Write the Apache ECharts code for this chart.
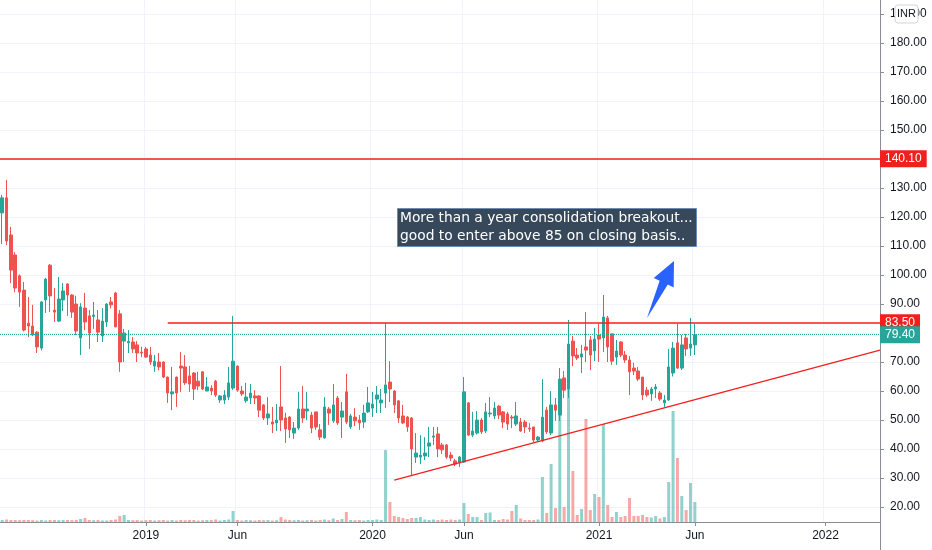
<!DOCTYPE html>
<html>
<head>
<meta charset="utf-8">
<script src="https://cdn.jsdelivr.net/npm/echarts@6/dist/echarts.min.js"></script>
<style>
html, body { margin: 0; padding: 0; background: #fff; }
#chart { width: 932px; height: 550px; }
</style>
</head>
<body>
<div id="chart"></div>
<script>
// weekly bars, first bar week of 21 May 2018, axis runs on into 2022
var firstWeek = [2018, 4, 21];
var weekCount = 202;

var opens = [
  121.4,126.6,113.8,106.9,99.7,94.8,83.4,82.4,80.3,74.8,
  91.4,103.4,87.9,84.1,91.4,96.9,93.1,90.0,78.3,88.6,
  85.9,85.7,84.5,79.0,83.8,90.7,93.8,86.6,77.2,76.6,
  76.9,75.9,73.4,74.5,72.4,68.6,70.0,70.0,64.8,59.0,
  64.8,68.6,68.3,65.2,66.2,63.4,66.6,60.0,61.0,63.4,
  56.9,56.9,57.9,61.0,68.6,60.0,56.6,57.6,58.3,58.3,
  55.2,50.7,49.3,49.0,54.5,50.7,51.0,45.5,47.2,53.8,
  53.1,51.7,52.8,46.6,43.8,53.8,49.7,57.6,51.0,59.7,
  47.6,51.0,50.0,49.3,52.8,54.1,57.2,55.9,59.3,63.1,
  60.0,56.6,51.4,51.0,50.7,37.2,37.2,37.6,41.0,44.1,
  45.2,41.4,41.4,37.9,35.9,35.2,35.5,55.9,44.8,45.5,
  50.0,46.2,52.1,51.4,54.8,52.8,52.1,51.0,48.6,49.3,
  49.3,47.2,47.6,43.1,42.8,53.4,45.5,55.2,51.7,64.5,
  60.7,77.2,72.4,71.7,75.2,77.6,73.8,79.3,78.3,85.2,
  79.7,71.7,76.9,72.4,70.7,67.9,66.9,64.8,60.3,59.0,
  60.7,59.3,55.9,56.9,66.2,76.6,67.9,78.3,74.8,75.9
];
var closes = [
  126.6,111.7,101.7,95.5,94.1,81.0,82.4,79.3,75.2,90.7,
  98.6,92.8,87.2,91.7,94.5,93.1,87.2,80.7,89.0,83.8,
  80.0,86.2,80.3,84.1,90.0,89.7,82.1,70.0,80.0,77.1,
  74.5,73.1,73.1,71.7,70.0,70.3,68.3,64.8,59.3,59.7,
  59.3,67.9,62.8,62.4,60.7,61.7,60.7,61.4,60.0,58.6,
  58.3,58.6,62.8,70.3,60.3,59.0,57.9,59.3,57.6,53.4,
  50.7,52.1,48.6,50.0,50.0,46.9,46.6,47.2,53.8,50.7,
  53.8,47.2,47.6,44.1,54.5,52.4,55.2,49.0,53.1,49.3,
  51.4,49.7,49.0,52.4,55.9,55.5,58.6,56.9,62.1,60.7,
  55.2,50.7,49.0,47.6,40.0,38.6,37.9,38.6,42.1,44.5,
  40.0,39.7,37.2,36.9,34.8,37.2,59.7,44.8,46.2,50.0,
  45.9,52.8,52.4,54.1,51.7,49.3,48.6,50.7,51.4,46.2,
  47.6,46.9,43.1,44.1,51.0,45.9,55.2,53.4,64.1,60.3,
  76.2,72.1,71.4,72.8,74.1,72.4,77.9,77.9,85.5,75.2,
  70.3,73.8,72.4,70.7,66.6,66.9,64.1,58.6,58.6,60.7,
  61.4,57.2,56.9,68.3,74.8,67.9,75.9,74.5,76.2,79.4
];
var lows = [
  110.7,110.3,97.2,94.1,89.0,80.5,78.6,78.9,73.1,74.0,
  86.9,87.2,83.8,83.8,87.6,85.9,85.2,79.3,72.4,81.0,
  74.5,81.4,76.9,76.9,82.1,88.5,82.0,66.6,70.0,73.1,
  73.1,70.0,71.7,71.4,69.0,66.6,67.2,64.5,55.9,53.4,
  54.5,59.7,62.1,59.7,56.9,60.3,60.3,60.0,58.6,57.9,
  55.9,55.5,56.9,60.3,59.7,58.3,55.9,55.5,55.5,51.0,
  50.0,48.3,45.5,46.2,46.2,42.1,43.8,43.5,46.6,49.0,
  50.0,45.5,46.6,43.1,43.5,48.3,49.0,48.3,43.8,48.6,
  46.9,47.9,46.6,47.2,52.4,51.0,52.4,52.4,54.1,56.2,
  52.4,49.0,48.6,45.9,31.0,35.2,34.8,36.2,37.2,41.4,
  37.2,38.3,36.6,35.9,34.1,33.8,35.2,44.5,44.1,45.0,
  45.2,45.5,51.0,50.3,50.3,47.2,46.6,47.2,47.9,45.9,
  45.5,45.9,42.4,42.4,42.4,45.2,44.8,49.7,49.7,57.6,
  57.6,68.6,70.7,66.2,70.0,67.2,70.3,70.0,73.4,70.0,
  69.0,69.0,71.7,69.7,58.6,65.5,63.4,56.9,57.9,56.6,
  57.6,56.6,54.5,56.6,65.0,67.6,67.2,72.1,72.1,72.4
];
var highs = [
  127.6,132.8,116.6,107.9,100.2,97.6,92.4,89.7,80.6,91.0,
  99.0,103.8,95.5,99.3,97.2,97.2,93.4,92.8,90.3,93.8,
  87.9,90.7,87.9,88.6,90.3,92.4,94.2,87.9,81.4,81.0,
  78.6,77.2,75.2,75.2,75.2,72.4,73.1,70.3,65.0,68.3,
  65.0,73.4,72.4,68.6,66.5,66.6,66.9,64.8,62.0,63.8,
  58.6,60.3,68.3,85.9,68.8,61.7,62.8,62.4,60.3,58.6,
  55.5,57.9,54.5,55.5,68.6,52.5,51.4,49.3,59.7,61.7,
  59.7,52.8,52.8,48.6,57.9,54.5,62.4,58.3,56.2,65.9,
  52.1,54.1,51.7,55.2,61.4,59.7,61.7,60.7,83.4,70.3,
  60.3,56.9,55.2,51.4,51.0,45.5,44.8,44.1,47.6,47.6,
  47.6,42.1,41.7,39.0,36.6,37.6,64.8,56.2,52.8,53.1,
  50.7,55.9,57.9,56.2,55.2,53.1,52.8,51.7,56.2,50.7,
  50.0,48.9,47.6,44.5,64.1,54.5,60.0,57.6,67.9,66.9,
  84.5,79.0,74.8,75.9,87.2,79.0,81.7,83.1,93.1,85.9,
  79.7,77.6,77.2,73.8,72.1,69.7,68.3,64.8,61.4,61.4,
  62.4,60.0,58.6,74.5,76.9,83.1,79.3,79.7,85.2,83.1
];
var volumes = [
  20,25,20,20,18,20,20,18,15,20,
  15,20,20,18,20,20,18,20,30,40,
  20,18,20,15,15,20,25,60,70,20,
  18,20,15,18,20,15,18,20,15,20,
  15,20,18,20,20,15,18,20,20,25,
  15,20,25,110,20,15,20,18,15,20,
  18,20,15,18,50,25,20,18,20,15,
  18,20,15,20,25,18,35,20,30,100,
  20,18,20,15,20,20,25,20,720,200,
  60,50,40,30,40,40,50,25,20,25,
  20,25,20,25,20,25,190,80,50,50,
  20,90,95,20,20,30,25,110,170,35,
  20,20,20,25,450,90,580,140,1150,150,
  1500,510,70,130,1030,120,280,250,980,170,
  50,100,50,60,240,60,60,70,50,45,
  60,35,50,400,1110,640,260,120,390,200
];

// drawn levels
var targetLevel = 140.1;
var resistanceLevel = 83.5;
var resistanceFrom = 38;           // bar index where the resistance line starts
var trendFrom = [90, 29.3];        // [bar index, price]
var trendToPrice = 74.1;           // price where the trend line meets the price scale
var lastClose = closes[closes.length - 1];

var upColor = '#26a69a';
var downColor = '#ef5350';
var levelRed = '#f21f1f';
var gridColor = '#f0f3fa';
var axisColor = '#8a8d96';
var textColor = '#131722';
var font = 'Liberation Sans';

var weeks = [];
var t0 = Date.UTC(firstWeek[0], firstWeek[1], firstWeek[2]);
for (var i = 0; i < weekCount; i++) {
  weeks.push(new Date(t0 + i * 7 * 864e5).toISOString().slice(0, 10));
}

// first bar of January (year label) or June, from 2019 on
function isMarkWeek(index, value) {
  var m = value.slice(5, 7);
  return +value.slice(0, 4) > 2018 && +value.slice(8, 10) <= 7 && (m === '01' || m === '06');
}

var candles = opens.map(function (o, i) { return [o, closes[i], lows[i], highs[i]]; });
var volumeBars = volumes.map(function (v, i) {
  return {
    value: v,
    itemStyle: { color: closes[i] >= opens[i] ? 'rgba(38,166,154,0.5)' : 'rgba(239,83,80,0.5)' }
  };
});

function levelLabel(text, bg) {
  return {
    show: true, position: 'end', distance: 0, formatter: text,
    color: '#fff', backgroundColor: bg, padding: [3, 5, 2, 5],
    fontSize: 12, fontFamily: font
  };
}

// arrow polygon from tail to tip (pixels)
function arrowShape(tail, tip, headLen, shaftHalf, headHalf) {
  var dx = tip[0] - tail[0], dy = tip[1] - tail[1];
  var len = Math.sqrt(dx * dx + dy * dy);
  var ux = dx / len, uy = dy / len, nx = -uy, ny = ux;
  var bx = tip[0] - ux * headLen, by = tip[1] - uy * headLen;
  return [
    tail,
    [bx + nx * shaftHalf, by + ny * shaftHalf],
    [bx + nx * headHalf, by + ny * headHalf],
    tip,
    [bx - nx * headHalf, by - ny * headHalf],
    [bx - nx * shaftHalf, by - ny * shaftHalf]
  ];
}

var chart = echarts.init(document.getElementById('chart'));

var option = {
  animation: false,
  backgroundColor: '#fff',
  grid: [
    { left: 0, right: 52, top: 14, bottom: 43 },
    { left: 0, right: 52, top: 0, bottom: 28 }
  ],
  xAxis: [
    { type: 'category', gridIndex: 0, data: weeks, boundaryGap: true, show: false },
    {
      type: 'category', gridIndex: 1, data: weeks, boundaryGap: true,
      axisLine: { show: true, lineStyle: { color: axisColor, width: 1 } },
      axisTick: { show: true, alignWithLabel: true, interval: isMarkWeek, length: 4, lineStyle: { color: axisColor } },
      axisLabel: {
        interval: isMarkWeek, color: textColor, fontSize: 12, fontFamily: font, margin: 8,
        formatter: function (v) { return v.slice(5, 7) === '01' ? v.slice(0, 4) : 'Jun'; }
      },
      splitLine: { show: true, interval: isMarkWeek, lineStyle: { color: gridColor, width: 1 } }
    }
  ],
  yAxis: [
    {
      type: 'value', gridIndex: 0, position: 'right', min: 20, max: 190, interval: 10,
      axisLine: { show: false },
      axisTick: { show: true, length: 4, lineStyle: { color: axisColor } },
      axisLabel: {
        color: textColor, fontSize: 12, fontFamily: font, margin: 10,
        formatter: function (v) { return (v === 80 || v === 140) ? '' : v.toFixed(2); }
      },
      splitLine: { show: true, lineStyle: { color: gridColor, width: 1 } }
    },
    {
      type: 'value', gridIndex: 1, position: 'right', min: 0, max: 5220,
      axisLine: { show: true, lineStyle: { color: axisColor, width: 1 } },
      axisTick: { show: false }, axisLabel: { show: false }, splitLine: { show: false }
    }
  ],
  series: [
    {
      name: 'Volume', type: 'bar', xAxisIndex: 1, yAxisIndex: 1,
      data: volumeBars, barWidth: 3, z: 1, silent: true
    },
    {
      name: 'Price', type: 'candlestick', xAxisIndex: 0, yAxisIndex: 0,
      data: candles, barWidth: 3, z: 3,
      itemStyle: { color: upColor, color0: downColor, borderColor: upColor, borderColor0: downColor, borderWidth: 1 },
      markLine: {
        silent: true, symbol: ['none', 'none'], animation: false,
        data: [
          {
            yAxis: targetLevel,
            lineStyle: { color: levelRed, width: 1.5, type: 'solid' },
            label: levelLabel(targetLevel.toFixed(2), levelRed)
          },
          [
            { coord: [resistanceFrom, resistanceLevel] },
            {
              coord: [weekCount - 1, resistanceLevel], x: 880,
              lineStyle: { color: levelRed, width: 1.5, type: 'solid' },
              label: levelLabel(resistanceLevel.toFixed(2), levelRed)
            }
          ],
          {
            yAxis: lastClose,
            lineStyle: { color: upColor, width: 1, type: 'dotted' },
            label: levelLabel(lastClose.toFixed(2), upColor)
          },
          [
            { coord: trendFrom },
            {
              coord: [weekCount - 1, trendToPrice], x: 880,
              lineStyle: { color: levelRed, width: 1.3, type: 'solid' },
              label: { show: false }
            }
          ]
        ]
      }
    }
  ],
  graphic: [
    { type: 'line', z: 100, shape: { x1: 880.5, y1: 522, x2: 880.5, y2: 550 }, style: { stroke: axisColor, lineWidth: 1 } },
    { type: 'rect', z: 100, shape: { x: 895, y: 5, width: 23, height: 18, r: 3 }, style: { fill: '#fff', stroke: '#d1d4dc' } },
    { type: 'text', z: 101, x: 906.5, y: 14, style: { text: 'INR', fill: textColor, font: '11px "Liberation Sans"', textAlign: 'center', textVerticalAlign: 'middle' } },
    { type: 'rect', z: 100, shape: { x: 397.5, y: 208.5, width: 299, height: 38 }, style: { fill: '#37485a', stroke: '#6b8cb8', lineWidth: 1 } },
    {
      type: 'text', z: 101, x: 400, y: 210,
      style: {
        text: 'More than a year consolidation breakout...\ngood to enter above 85 on closing basis..',
        fill: '#fff', font: '13.8px "DejaVu Sans"', lineHeight: 17.5
      }
    },
    {
      type: 'polygon', z: 100,
      shape: { points: arrowShape([647, 318], [674, 261], 24, 4.5, 11) },
      style: { fill: '#2962ff' }
    }
  ]
};

chart.setOption(option);
</script>
</body>
</html>
